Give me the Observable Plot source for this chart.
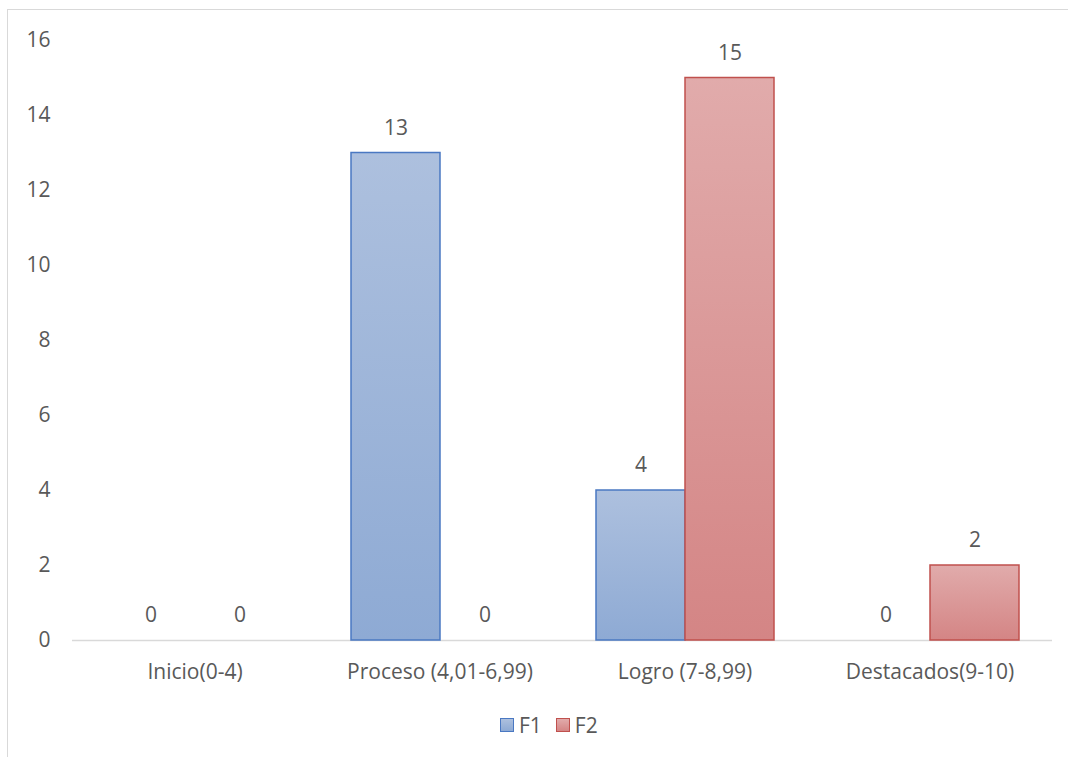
<!DOCTYPE html>
<html>
<head>
<meta charset="utf-8">
<script src="https://cdn.jsdelivr.net/npm/d3@7"></script>
<script src="https://cdn.jsdelivr.net/npm/@observablehq/plot@0.6"></script>
<style>
  html, body { margin: 0; background: #fff; overflow: hidden; font-family: "Open Sans", sans-serif; }
  #frame { position: absolute; left: 7px; top: 9px; width: 1200px; height: 900px;
           border-left: 1.5px solid #d9d9d9; border-top: 1.5px solid #d9d9d9; box-sizing: border-box; }
  #chart { position: absolute; left: 0; top: 0; }
  #legend { position: absolute; left: 500px; top: 710px; display: flex; align-items: center;
            font-size: 21px; color: #595959; line-height: 30px; }
  .item { display: flex; align-items: center; margin-right: 14px; }
  .swatch { width: 14px; height: 14px; margin-right: 5px; box-sizing: border-box; }
</style>
</head>
<body>
<div id="frame"></div>
<div id="chart"></div>
<div id="legend"></div>
<script>
// Categories (grade ranges) and counts per group
const categories = ["Inicio(0-4)", "Proceso (4,01-6,99)", "Logro (7-8,99)", "Destacados(9-10)"];
const seriesNames = ["F1", "F2"];
const f1Values = [0, 13, 4, 0];
const f2Values = [0, 0, 15, 2];
const yTicks = [0, 2, 4, 6, 8, 10, 12, 14, 16];

const seriesStyle = {
  F1: { top: "#adc0de", bottom: "#8eaad4", stroke: "#4a78c2" },
  F2: { top: "#e1abab", bottom: "#d48585", stroke: "#c0504d" }
};

const rows = [];
categories.forEach((c, i) => {
  rows.push({ cat: c, series: "F1", value: f1Values[i] });
  rows.push({ cat: c, series: "F2", value: f2Values[i] });
});

const barsFor = (s) => Plot.barY(rows, {
  filter: d => d.series === s && d.value > 0,
  fx: "cat", x: "series", y: "value",
  fill: `url(#grad-${s})`, stroke: seriesStyle[s].stroke, strokeWidth: 1.5
});

const svg = Plot.plot({
  width: 1068,
  height: 690,
  marginTop: 40,
  marginBottom: 50,
  marginLeft: 72,
  marginRight: 16,
  style: { fontFamily: "'Open Sans', sans-serif", fontSize: "21px", color: "#595959", background: "transparent" },
  fx: { domain: categories, padding: 0, label: null, axis: "bottom", tickSize: 0, tickPadding: 24 },
  x: { domain: seriesNames, axis: null, paddingInner: 0, paddingOuter: 0.376 },
  y: { domain: [0, 16], ticks: yTicks, tickSize: 0, tickPadding: 22, label: null },
  marks: [
    Plot.ruleY([0], { stroke: "#d9d9d9", strokeWidth: 1.5 }),
    barsFor("F1"),
    barsFor("F2"),
    Plot.text(rows, { fx: "cat", x: "series", y: "value", text: d => String(d.value), dy: -25, fill: "#595959" })
  ]
});

// vertical gradients used by the bar fills
const defs = d3.select(svg).insert("defs", ":first-child");
for (const s of seriesNames) {
  const g = defs.append("linearGradient").attr("id", `grad-${s}`)
    .attr("x1", 0).attr("y1", 0).attr("x2", 0).attr("y2", 1);
  g.append("stop").attr("offset", "0%").attr("stop-color", seriesStyle[s].top);
  g.append("stop").attr("offset", "100%").attr("stop-color", seriesStyle[s].bottom);
}

document.getElementById("chart").appendChild(svg);

// legend
const legend = d3.select("#legend");
for (const s of seriesNames) {
  const item = legend.append("div").attr("class", "item");
  item.append("div").attr("class", "swatch")
    .style("background", `linear-gradient(${seriesStyle[s].top}, ${seriesStyle[s].bottom})`)
    .style("border", `1.5px solid ${seriesStyle[s].stroke}`);
  item.append("span").text(s);
}
</script>
</body>
</html>
